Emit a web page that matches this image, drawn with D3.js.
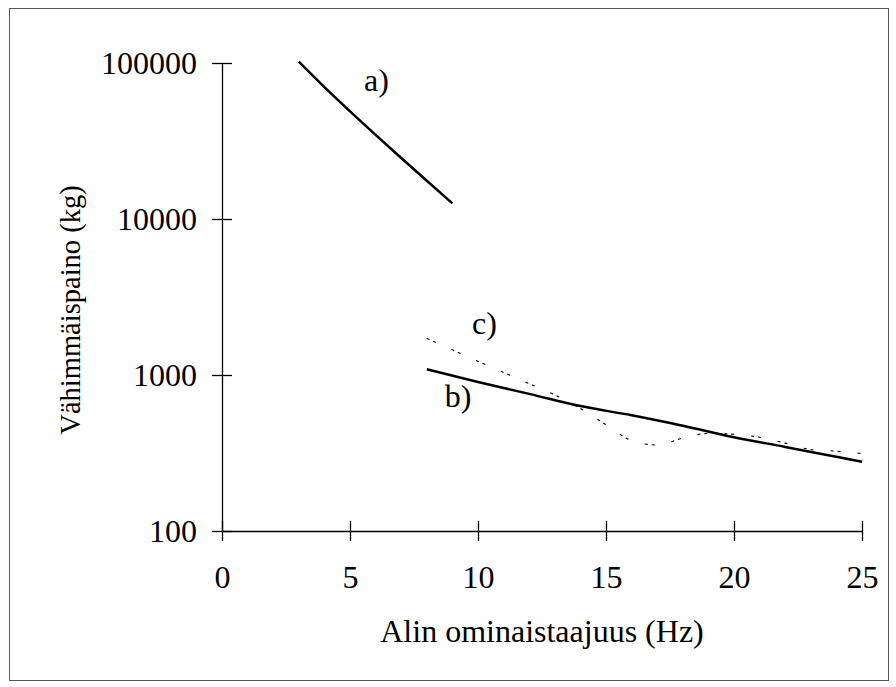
<!DOCTYPE html>
<html>
<head>
<meta charset="utf-8">
<script src="https://cdn.jsdelivr.net/npm/d3@7"></script>
<style>
  html, body { margin: 0; padding: 0; background: #fff; }
  svg { display: block; }
  text { font-family: "Liberation Serif", "Times New Roman", serif; fill: #000; }
</style>
</head>
<body>
<svg id="chart" width="896" height="687"></svg>
<script>
// Lowest natural frequency (Hz) vs. minimum mass (kg)
const freqA = [3, 4, 5, 6, 7, 8, 9];
const massA = [101900, 70000, 49000, 34600, 24600, 17600, 12600];

const freqB = [8, 10, 12, 14, 16, 18, 20, 22, 24, 25];
const massB = [1088, 902, 757, 632, 552, 473, 399, 346, 299, 278];

const freqC = [8, 9, 10, 11, 12, 13, 14, 15, 16, 17, 18, 19, 20, 21, 22, 23, 24, 25];
const massC = [1718, 1449, 1225, 1038, 879, 745, 610, 480, 380, 356, 394, 422, 417, 399, 366, 333, 325, 314];

const xTicks = [0, 5, 10, 15, 20, 25];
const yTicks = [100, 1000, 10000, 100000];

const curveLabels = [
  { text: "a)", f: 5.55, m: 66200 },
  { text: "c)", f: 9.77, m: 1833 },
  { text: "b)", f: 8.7, m: 624 }
];

const svg = d3.select("#chart");

// outer frame
svg.append("rect")
  .attr("x", 9.5).attr("y", 8.5)
  .attr("width", 879).attr("height", 672)
  .attr("fill", "none").attr("stroke", "#555").attr("stroke-width", 1);

const x = d3.scaleLinear().domain([0, 25]).range([222, 862]);
const y = d3.scaleLog().domain([100, 100000]).range([531, 63]);

const fontSize = 32;
const tick = 10;

// y axis
const gy = svg.append("g")
  .attr("transform", `translate(${x(0)},0)`)
  .call(d3.axisLeft(y).tickValues(yTicks).tickFormat(d3.format("d"))
        .tickSize(tick).tickSizeOuter(0).tickPadding(15));
gy.attr("font-family", null).attr("font-size", null);
gy.selectAll(".tick line").attr("x2", -tick).attr("x1", tick);
gy.selectAll(".tick text").style("font-size", fontSize + "px");

// x axis
const gx = svg.append("g")
  .attr("transform", `translate(0,${y(100)})`)
  .call(d3.axisBottom(x).tickValues(xTicks).tickFormat(d3.format("d"))
        .tickSize(tick).tickSizeOuter(0).tickPadding(24));
gx.attr("font-family", null).attr("font-size", null);
gx.selectAll(".tick line").attr("y1", -tick).attr("y2", tick);
gx.selectAll(".tick text").style("font-size", fontSize + "px");

svg.selectAll(".domain, .tick line").attr("stroke", "#000").attr("stroke-width", 1.3);

// axis titles
svg.append("text")
  .attr("x", (x(0) + x(25)) / 2).attr("y", 642)
  .attr("text-anchor", "middle")
  .style("font-size", fontSize + "px")
  .text("Alin ominaistaajuus (Hz)");

svg.append("text")
  .attr("transform", "translate(80,310) rotate(-90)")
  .attr("text-anchor", "middle")
  .style("font-size", "28.5px")
  .text("Vähimmäispaino (kg)");

// curves
const lineSmooth = d3.line().x(d => x(d[0])).y(d => y(d[1])).curve(d3.curveMonotoneX);

svg.append("path")
  .datum(d3.zip(freqA, massA))
  .attr("d", lineSmooth)
  .attr("fill", "none").attr("stroke", "#000").attr("stroke-width", 2.5);

svg.append("path")
  .datum(d3.zip(freqB, massB))
  .attr("d", lineSmooth)
  .attr("fill", "none").attr("stroke", "#000").attr("stroke-width", 2.5);

svg.append("path")
  .datum(d3.zip(freqC, massC))
  .attr("d", lineSmooth)
  .attr("fill", "none").attr("stroke", "#000").attr("stroke-width", 1.1)
  .attr("stroke-dasharray", "3,4,3,17");

// curve labels
svg.selectAll("text.curve-label")
  .data(curveLabels)
  .enter().append("text")
  .attr("class", "curve-label")
  .attr("x", d => x(d.f)).attr("y", d => y(d.m))
  .style("font-size", fontSize + "px")
  .text(d => d.text);
</script>
</body>
</html>
